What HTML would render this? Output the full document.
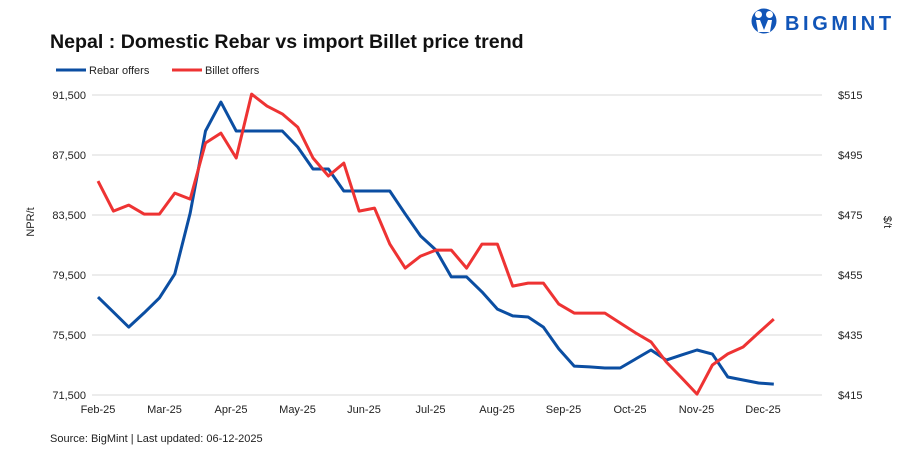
<!DOCTYPE html>
<html><head><meta charset="utf-8"><style>
body{margin:0;background:#fff;font-family:"Liberation Sans",Arial,sans-serif;}
svg text{font-family:"Liberation Sans",Arial,sans-serif;}
</style></head><body>
<svg width="907" height="454" viewBox="0 0 907 454">
<g>
<circle cx="764" cy="21" r="12.5" fill="#1155b8"/>
<circle cx="758.5" cy="14.5" r="3.5" fill="#fff"/><circle cx="769.5" cy="14.5" r="3.5" fill="#fff"/>
<path d="M756 20 L760 20 L764 30 L768 20 L772 20 L770 32 L758 32 Z" fill="#fff"/>
<text x="785" y="30" font-size="20" font-weight="bold" fill="#1155b8" letter-spacing="3.6">BIGMINT</text>
</g>
<text x="50" y="48" font-size="19.6" font-weight="bold" fill="#111">Nepal : Domestic Rebar vs import Billet price trend</text>
<g>
<line x1="56" y1="70" x2="86" y2="70" stroke="#0b4ea2" stroke-width="3"/>
<text x="89" y="74" font-size="11" fill="#222">Rebar offers</text>
<line x1="172" y1="70" x2="202" y2="70" stroke="#ee3333" stroke-width="3"/>
<text x="205" y="74" font-size="11" fill="#222">Billet offers</text>
</g>
<g id="grid"></g><g id="axes"></g><g id="series"></g>
<text transform="translate(34,222) rotate(-90)" text-anchor="middle" font-size="11" fill="#222">NPR/t</text>
<text transform="translate(884,222) rotate(90)" text-anchor="middle" font-size="11" fill="#222">$/t</text>
<text x="50" y="442" font-size="11" fill="#222">Source: BigMint | Last updated: 06-12-2025</text>
</svg>
<script>
const months=["Feb-25","Mar-25","Apr-25","May-25","Jun-25","Jul-25","Aug-25","Sep-25","Oct-25","Nov-25","Dec-25"];
const leftTicks=[71500,75500,79500,83500,87500,91500];
const rightTicks=[415,435,455,475,495,515];
const rebar=[78030,77030,76030,76970,77970,79570,83630,89100,91030,89100,89100,89100,89100,88030,86570,86570,85100,85100,85100,85100,83570,82100,81170,79370,79370,78370,77230,76770,76700,76030,74570,73430,73370,73300,73300,73900,74500,73830,74170,74500,74230,72700,72500,72300,72230];
const billet=[486.3,476.3,478.3,475.3,475.3,482.3,480.3,499,502.3,494,515.3,511.3,508.7,504.3,494,488,492.3,476.3,477.3,465.3,457.3,461.3,463.3,463.3,457.3,465.3,465.3,451.3,452.3,452.3,445.3,442.3,442.3,442.3,439,435.7,432.7,426,420.7,415.3,425,428.7,431,435.7,440.3];
const NS="http://www.w3.org/2000/svg";
const x0=98,wk=15.36,yTop=95,yBot=395;
const xW=i=>x0+i*wk;
const xM=m=>x0+m*66.5;
const yL=v=>yBot-(v-71500)/20000*(yBot-yTop);
const yR=v=>yBot-(v-415)/100*(yBot-yTop);
function mk(tag,attrs,parent,txt){const e=document.createElementNS(NS,tag);for(const k in attrs)e.setAttribute(k,attrs[k]);if(txt!==undefined)e.textContent=txt;parent.appendChild(e);return e;}
const grid=document.getElementById('grid'),axes=document.getElementById('axes'),ser=document.getElementById('series');
leftTicks.forEach(v=>{
 const g=mk('line',{x1:92,x2:822,y1:yL(v),y2:yL(v),stroke:'#d9d9d9','stroke-width':1},grid);
 
 
 const t=mk('text',{x:86,y:yL(v)+4,'text-anchor':'end','font-size':11,fill:'#222'},axes,v.toLocaleString('en-US'));
 
 
});
rightTicks.forEach(v=>{
 const t=mk('text',{x:838,y:yR(v)+4,'font-size':11,fill:'#222'},axes,'$'+v);
 
 
});
months.forEach((m,i)=>{
 const t=mk('text',{x:xM(i),y:413,'text-anchor':'middle','font-size':11,fill:'#222'},axes,m);
 
 
});
const pr=rebar.map((v,i)=>xW(i).toFixed(1)+','+yL(v).toFixed(1)).join(' ');
const pb=billet.map((v,i)=>xW(i).toFixed(1)+','+yR(v).toFixed(1)).join(' ');
const lr=mk('polyline',{points:pr,fill:'none',stroke:'#0b4ea2','stroke-width':3,'stroke-linejoin':'round'},ser);


const lb=mk('polyline',{points:pb,fill:'none',stroke:'#ee3333','stroke-width':3,'stroke-linejoin':'round'},ser);


</script>
</body></html>
